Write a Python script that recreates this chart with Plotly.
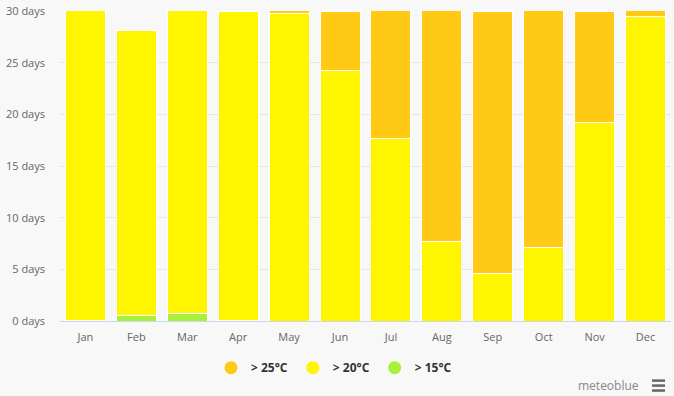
import plotly.graph_objects as go

months = ["Jan", "Feb", "Mar", "Apr", "May", "Jun", "Jul", "Aug", "Sep", "Oct", "Nov", "Dec"]
days_15 = [0.05, 0.55, 0.75, 0.05, 0, 0, 0, 0, 0, 0, 0, 0]
days_20 = [30.95, 27.55, 30.25, 29.95, 29.75, 24.2, 17.7, 7.7, 4.6, 7.1, 19.2, 29.5]
days_25 = [0, 0, 0, 0, 1.25, 5.8, 13.3, 23.3, 25.4, 23.9, 10.8, 1.5]
series_names = ["> 25°C", "> 20°C", "> 15°C"]
series_colors = ["#ffc914", "#fff500", "#a8f03c"]
y_ticks = [0, 5, 10, 15, 20, 25, 30]
y_ticktext = [f"{v} days" for v in y_ticks]

fig = go.Figure()
for vals, name, col in [(days_15, series_names[2], series_colors[2]),
                        (days_20, series_names[1], series_colors[1]),
                        (days_25, series_names[0], series_colors[0])]:
    fig.add_trace(go.Bar(x=months, y=vals, name=name, showlegend=False,
                         marker=dict(color=col, line=dict(color="white", width=1)),
                         hoverinfo="x+y+name"))

for name, col in zip(series_names, series_colors):
    fig.add_trace(go.Scatter(x=[None], y=[None], mode="markers", name=name,
                             marker=dict(symbol="circle", size=13, color=col)))

W, H = 674, 396
ml, mr, mt, mb = 60, 3, 9, 75
pw, ph = W - ml - mr, H - mt - mb

def px(x):
    return (x - ml) / pw

def py(y):
    return (H - mb - y) / ph

shapes = []
for yy in [381, 386, 391]:
    shapes.append(dict(type="line", xref="paper", yref="paper",
                       x0=px(652), x1=px(665), y0=py(yy), y1=py(yy),
                       line=dict(color="#666666", width=2.5)))

fig.update_layout(
    width=W, height=H,
    margin=dict(l=ml, r=mr, t=mt, b=mb),
    paper_bgcolor="#f8f8f8", plot_bgcolor="#f8f8f8",
    barmode="stack", bargap=0.215,
    font=dict(family="Open Sans, DejaVu Sans, sans-serif", size=11, color="#666666"),
    xaxis=dict(showgrid=False, showline=True, linecolor="#ccd6eb", linewidth=1,
               ticks="", tickfont=dict(size=11, color="#666666"), ticklabelstandoff=6,
               fixedrange=True),
    yaxis=dict(range=[0, 30], tickvals=y_ticks, ticktext=y_ticktext,
               showgrid=True, gridcolor="#e6e6e6", gridwidth=1, zeroline=False,
               ticks="", ticklabelstandoff=14, tickfont=dict(size=11, color="#666666"),
               fixedrange=True),
    legend=dict(orientation="h", x=px(334), xanchor="center", y=py(368), yanchor="middle",
                font=dict(size=12, color="#333333", family="Open Sans, DejaVu Sans, sans-serif", weight="bold"),
                itemwidth=30, bgcolor="rgba(0,0,0,0)", traceorder="normal"),
    shapes=shapes,
    annotations=[dict(text="meteoblue", xref="paper", yref="paper", x=px(641), y=py(386),
                      xanchor="right", yanchor="middle", showarrow=False,
                      font=dict(size=12, color="#888888"))],
)

fig.write_html("out.html", config={"displayModeBar": False},
               post_script="document.body.style.margin='0';document.body.style.padding='0';document.body.style.background='#f8f8f8';")
